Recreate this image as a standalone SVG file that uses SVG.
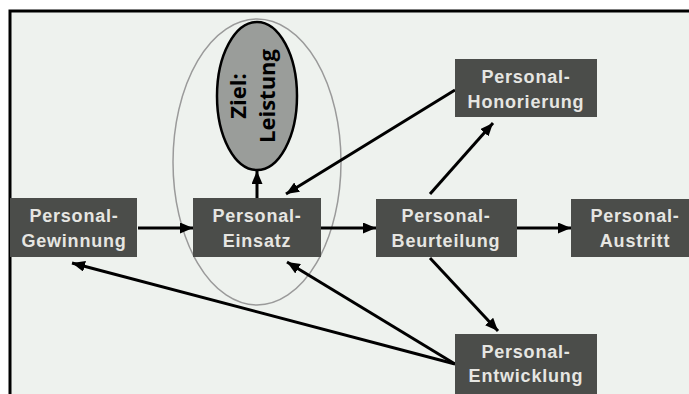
<svg xmlns="http://www.w3.org/2000/svg" width="689" height="394" viewBox="0 0 689 394">
<defs>
<marker id="ah" viewBox="0 0 13 11" refX="13" refY="5.5" markerWidth="13" markerHeight="11" markerUnits="userSpaceOnUse" orient="auto">
<path d="M0,0 L13,5.5 L0,11 Z" fill="#000"/>
</marker>
<style>
.box{fill:#4b4d4a;}
.lbl{font-family:"Liberation Sans",Arial,sans-serif;font-weight:bold;font-size:18px;fill:#e6e6e2;text-anchor:middle;letter-spacing:0.8px;}
.con{stroke:#000;stroke-width:3;fill:none;marker-end:url(#ah);}
.goal{font-family:"Open Sans","Liberation Sans",sans-serif;font-weight:bold;font-size:22px;fill:#000;text-anchor:middle;}
</style>
</defs>
<rect x="0" y="0" width="689" height="394" fill="#ffffff"/>
<rect x="10" y="11" width="690" height="400" fill="#eef2ee" stroke="#000" stroke-width="3"/>
<g id="umfeld">
<ellipse cx="257" cy="162" rx="84" ry="143" fill="none" stroke="#9a9a9a" stroke-width="1.5"/>
</g>
<g id="ziel">
<ellipse cx="257" cy="96" rx="40" ry="74" fill="#9a9d9a" stroke="#000" stroke-width="2.5"/>
<g transform="translate(257,96) rotate(-90)">
<text class="goal" x="0" y="-11">Ziel:</text>
<text class="goal" x="0" y="18">Leistung</text>
</g>
</g>
<g id="connectors">
<line class="con" x1="138" y1="228" x2="193" y2="228"/>
<line class="con" x1="321" y1="228" x2="376" y2="228"/>
<line class="con" x1="517" y1="228" x2="571" y2="228"/>
<line class="con" x1="257" y1="198" x2="257" y2="171"/>
<line class="con" x1="455" y1="90" x2="286" y2="194"/>
<line class="con" x1="430" y1="194" x2="493" y2="123"/>
<line class="con" x1="430" y1="258" x2="498" y2="331"/>
<line class="con" x1="455" y1="364" x2="287" y2="262"/>
<line class="con" x1="455" y1="364" x2="72" y2="263"/>
</g>
<g id="gewinnung">
<rect class="box" x="10" y="198" width="127" height="59"/>
<text class="lbl" x="74" y="222">Personal-</text>
<text class="lbl" x="74" y="247">Gewinnung</text>
</g>
<g id="einsatz">
<rect class="box" x="193" y="198" width="128" height="59"/>
<text class="lbl" x="257" y="222">Personal-</text>
<text class="lbl" x="257" y="247">Einsatz</text>
</g>
<g id="beurteilung">
<rect class="box" x="376" y="199" width="141" height="58"/>
<text class="lbl" x="446" y="222">Personal-</text>
<text class="lbl" x="446" y="247">Beurteilung</text>
</g>
<g id="austritt">
<rect class="box" x="571" y="199" width="118" height="58"/>
<text class="lbl" x="635" y="222">Personal-</text>
<text class="lbl" x="635" y="247">Austritt</text>
</g>
<g id="honorierung">
<rect class="box" x="455" y="59" width="142" height="58"/>
<text class="lbl" x="526" y="83">Personal-</text>
<text class="lbl" x="526" y="108">Honorierung</text>
</g>
<g id="entwicklung">
<rect class="box" x="455" y="334" width="142" height="60"/>
<text class="lbl" x="526" y="358">Personal-</text>
<text class="lbl" x="526" y="382">Entwicklung</text>
</g>
</svg>
